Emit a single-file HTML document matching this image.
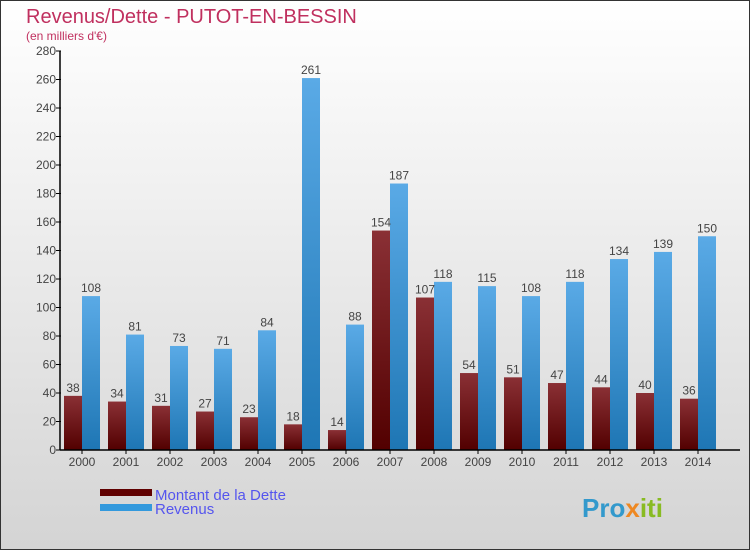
<!DOCTYPE html>
<html><head><meta charset="utf-8"><style>
body{margin:0}
#c{width:750px;height:550px;position:relative;font-family:"Liberation Sans",sans-serif}
</style></head><body>
<div id="c">
<svg id="s" width="750" height="550" xmlns="http://www.w3.org/2000/svg">
<defs>
<linearGradient id="bg" x1="0" y1="0" x2="0" y2="1"><stop offset="0" stop-color="#ffffff"/><stop offset="1" stop-color="#d4d4d4"/></linearGradient>
<linearGradient id="gd" x1="0" y1="0" x2="0" y2="1"><stop offset="0" stop-color="#8a3035"/><stop offset="1" stop-color="#520000"/></linearGradient>
<linearGradient id="gr" x1="0" y1="0" x2="0" y2="1"><stop offset="0" stop-color="#5aaae6"/><stop offset="1" stop-color="#1e76b4"/></linearGradient>
</defs>
<rect x="0.5" y="0.5" width="749" height="549" fill="url(#bg)" stroke="#333"/>
<text x="26" y="23" font-size="20" fill="#c0305f">Revenus/Dette - PUTOT-EN-BESSIN</text>
<text x="26" y="40" font-size="12" fill="#c0305f">(en milliers d'€)</text>
<g id="plot"></g>
<rect x="100" y="489" width="52" height="7" fill="#600000"/>
<text x="155" y="500" font-size="15" fill="#5555ee">Montant de la Dette</text>
<rect x="100" y="504" width="52" height="7" fill="#3399dd"/>
<text x="155" y="514" font-size="15" fill="#5555ee">Revenus</text>
<text x="582" y="517" font-size="26" font-weight="bold" fill="#3399cc">Pro<tspan fill="#ee8822">x</tspan><tspan fill="#88bb22">iti</tspan></text>
</svg>
</div>
<script>
const categories=["2000","2001","2002","2003","2004","2005","2006","2007","2008","2009","2010","2011","2012","2013","2014"];
const dette=[38,34,31,27,23,18,14,154,107,54,51,47,44,40,36];
const revenus=[108,81,73,71,84,261,88,187,118,115,108,118,134,139,150];
const yTicks=[0,20,40,60,80,100,120,140,160,180,200,220,240,260,280];
const NS="http://www.w3.org/2000/svg";
const g=document.getElementById('plot');
const x0=62,gw=44,y0=450,yTop=51,yMax=280;
function y(v){return y0-(v/yMax)*(y0-yTop);}
function mk(t,a,txt){const e=document.createElementNS(NS,t);for(const k in a)e.setAttribute(k,a[k]);if(txt!==undefined)e.textContent=txt;g.appendChild(e);return e;}
yTicks.forEach(v=>{
 const l=mk('line',{x1:56,x2:61,y1:y(v),y2:y(v),stroke:'#000'});
 
 
 const t=mk('text',{x:56,y:y(v)+4,'font-size':12,'text-anchor':'end',fill:'#444'},v);
 
 
});
categories.forEach((c,i)=>{
 const gx=x0+i*gw;
 const d=mk('rect',{x:gx+2,y:y(dette[i]),width:18,height:y0-y(dette[i]),fill:'url(#gd)'});
 
 
 const r=mk('rect',{x:gx+20,y:y(revenus[i]),width:18,height:y0-y(revenus[i]),fill:'url(#gr)'});
 
 
 const dl=mk('text',{x:gx+11,y:y(dette[i])-4,'font-size':12,'text-anchor':'middle',fill:'#444'},dette[i]);
 
 
 const rl=mk('text',{x:gx+29,y:y(revenus[i])-4,'font-size':12,'text-anchor':'middle',fill:'#444'},revenus[i]);
 
 
 const tk=mk('line',{x1:gx+20,x2:gx+20,y1:y0,y2:y0+4,stroke:'#000'});
 
 
 const xl=mk('text',{x:gx+20,y:y0+16,'font-size':12,'text-anchor':'middle',fill:'#444'},c);
 
 
});
const ax=mk('line',{x1:60,x2:60,y1:yTop,y2:y0,stroke:'#000','stroke-width':1.5});


const bx=mk('line',{x1:60,x2:740,y1:y0,y2:y0,stroke:'#000','stroke-width':1.5});


</script>
</body></html>
